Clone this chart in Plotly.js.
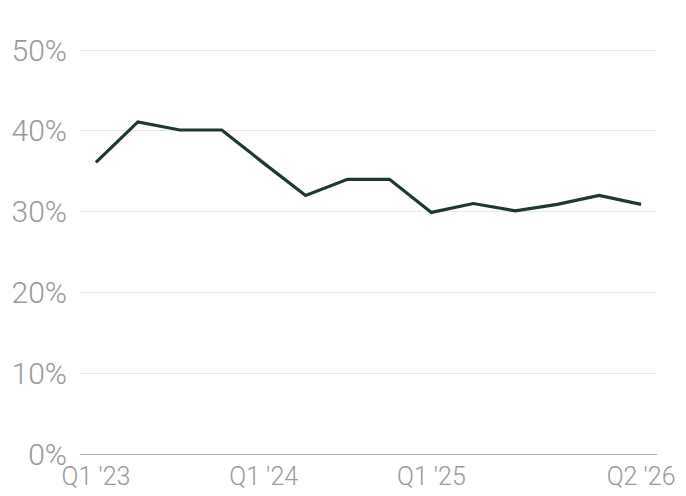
<!DOCTYPE html>
<html>
<head>
<meta charset="utf-8">
<script src="https://cdn.plot.ly/plotly-3.0.1.min.js"></script>
<style>html,body{margin:0;padding:0;background:#fff;}#chart{width:686px;height:496px;}</style>
</head>
<body>
<div id="chart"></div>
<script>
const quarters = ["Q1 '23","Q2 '23","Q3 '23","Q4 '23","Q1 '24","Q2 '24","Q3 '24","Q4 '24","Q1 '25","Q2 '25","Q3 '25","Q4 '25","Q1 '26","Q2 '26"];
const values = [36.1, 41.1, 40.1, 40.1, 36.0, 32.0, 34.0, 34.0, 29.9, 31.0, 30.1, 30.9, 32.0, 30.9];
const shownTicks = ["Q1 '23","Q1 '24","Q1 '25","Q2 '26"];
const yTicks = [0, 10, 20, 30, 40, 50];
const yTickLabels = ["0%", "10%", "20%", "30%", "40%", "50%"];

const idx = quarters.map((q, i) => i);
const tickIdx = shownTicks.map(t => quarters.indexOf(t));

const trace = {
  x: idx, y: values, type: 'scatter', mode: 'lines',
  line: {color: '#1b3a2d', width: 3.2},
  hoverinfo: 'skip'
};
const layout = {
  width: 686, height: 496,
  margin: {l: 80, r: 29, t: 48, b: 42, pad: 0},
  paper_bgcolor: '#fff', plot_bgcolor: '#fff',
  showlegend: false,
  font: {family: 'Roboto, sans-serif', color: '#999999'},
  xaxis: {
    range: [-0.38, 13.38], tickvals: tickIdx, ticktext: shownTicks,
    showgrid: false, zeroline: false, showline: true, linecolor: '#aaaaaa', linewidth: 1,
    ticks: '', tickfont: {size: 25, color: '#999999', weight: 300}, fixedrange: true
  },
  yaxis: {
    range: [0, 50.25], tickvals: yTicks, ticktext: yTickLabels,
    showgrid: true, gridcolor: '#e8e8e8', gridwidth: 1, zeroline: false, showline: false,
    ticks: '', ticklabelstandoff: 12, tickfont: {size: 30, color: '#999999', weight: 300}, fixedrange: true
  }
};
Plotly.newPlot('chart', [trace], layout, {displayModeBar: false, staticPlot: true});
</script>
</body>
</html>
